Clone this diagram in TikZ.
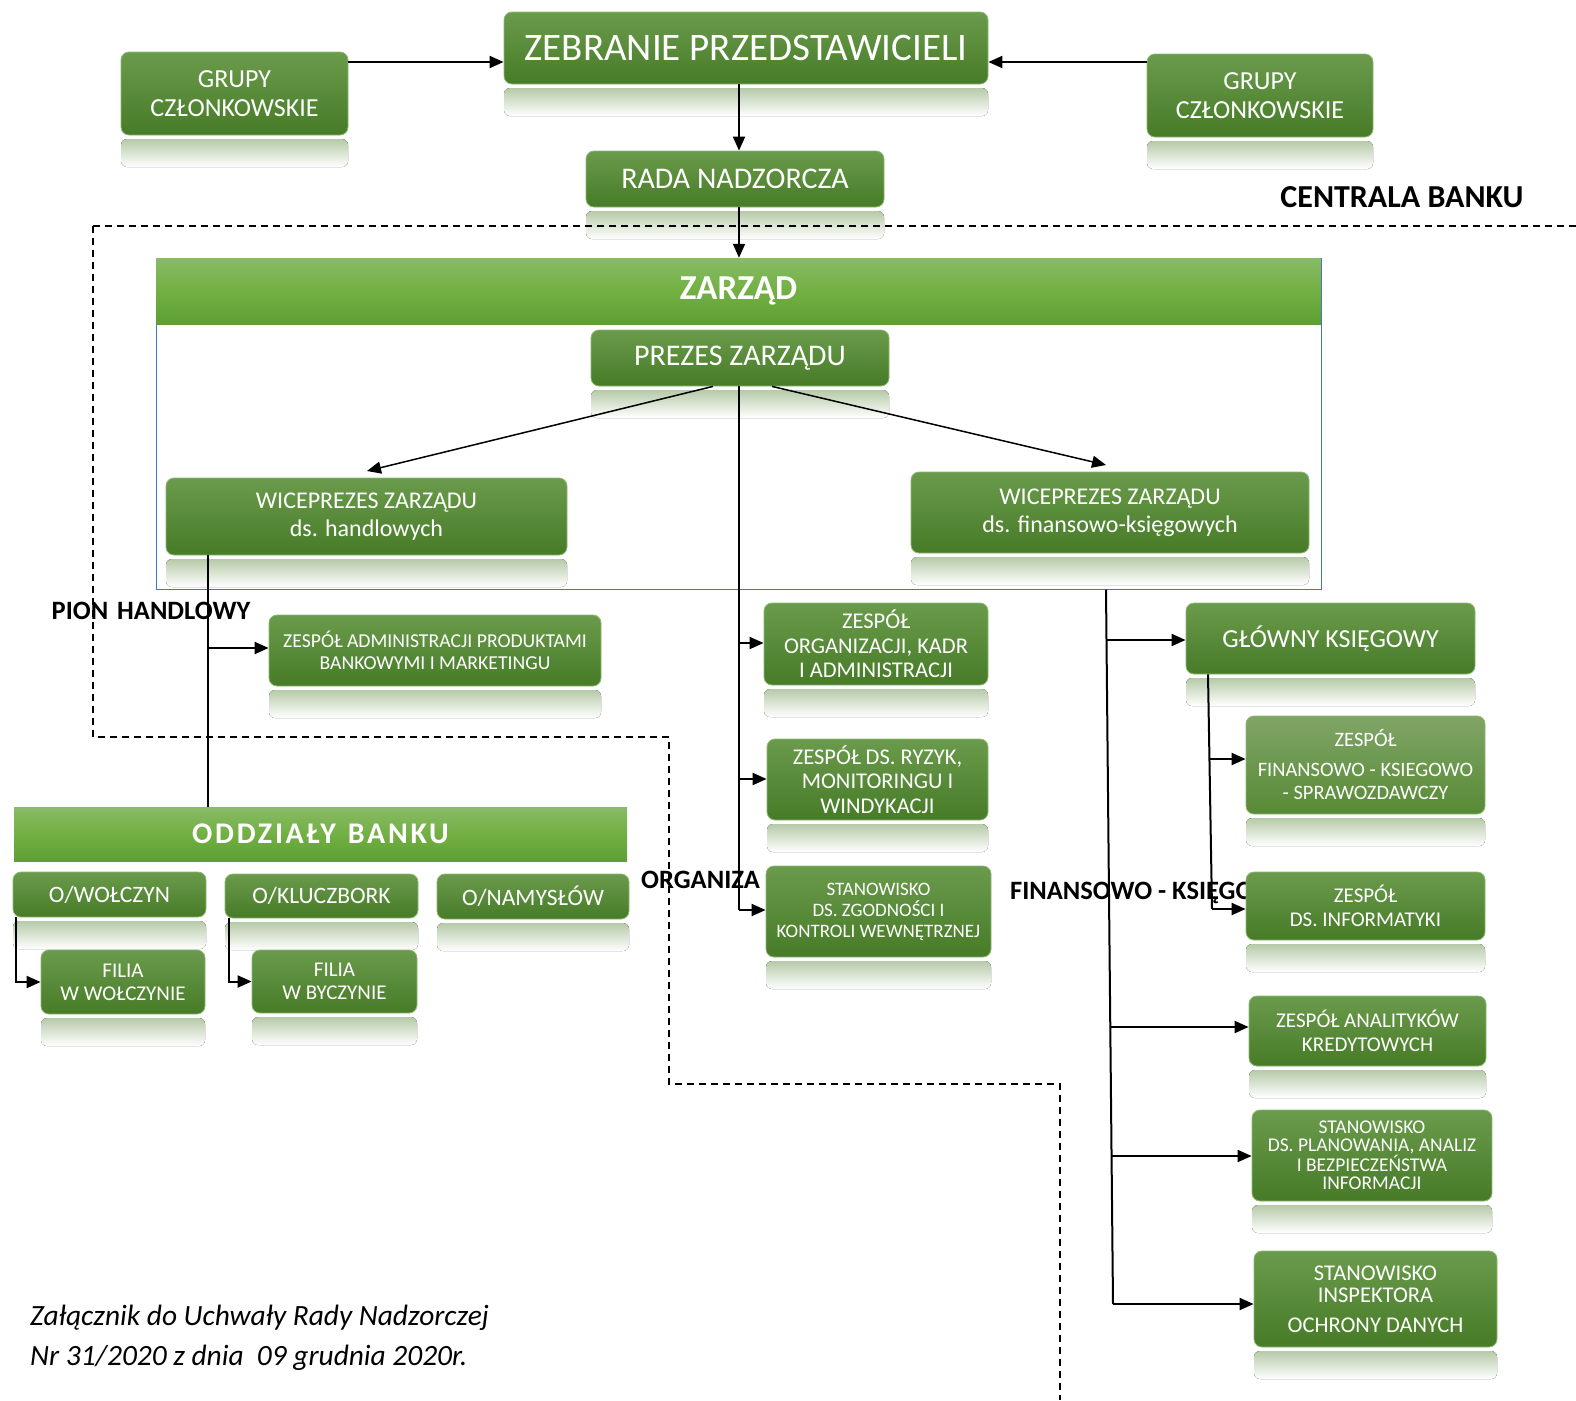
\documentclass[tikz,border=0pt]{standalone}
\usepackage{fontspec}
\setmainfont{Carlito}
\usetikzlibrary{arrows.meta,calc}
\definecolor{gtop}{HTML}{6A9B4C}
\definecolor{gbot}{HTML}{477B27}
\definecolor{gedge}{HTML}{8DB872}
\definecolor{ftop}{HTML}{80A567}
\definecolor{fbot}{HTML}{578A35}
\definecolor{refl}{HTML}{B6CAA8}
\definecolor{btop}{HTML}{88BB66}
\definecolor{bmid}{HTML}{72B043}
\definecolor{bbot}{HTML}{5E9E32}
\definecolor{zblue}{HTML}{4472C4}
\newcommand\fs[2]{\fontsize{#1}{#2}\selectfont}
\tikzset{
  gbox/.style={rounded corners=8pt, top color=gtop, bottom color=gbot, draw=gedge, line width=0.8pt, text=white, align=center, inner sep=0pt},
  gbar/.style={top color=btop, bottom color=bbot, middle color=bmid, draw=none, text=white, inner sep=0pt},
  arr/.style={line width=2pt, -{Triangle[length=14pt,width=12pt]}},
  tarr/.style={line width=1.5pt, -{Triangle[length=14pt,width=12pt]}},
  ln/.style={line width=2pt},
  dsh/.style={line width=1.5pt, dash pattern=on 7pt off 5pt},
  lbl/.style={font=\bfseries\fs{26.5}{30}, text=black, inner sep=0pt},
}
% [opt] name x1 y1 x2 y2 font text
\newcommand\gb[8][]{%
  \fill[top color=refl, bottom color=white, rounded corners=6pt] (#3,#6+4) rectangle (#5,#6+32);
  \node[gbox,#1, minimum width={(#5)-(#3)}, minimum height={(#6)-(#4)}, font=#7] (#2) at ({((#3)+(#5))/2},{((#4)+(#6))/2}) {#8};
}
\begin{document}
\begin{tikzpicture}[x=1pt,y=-1pt]
\useasboundingbox (0,0) rectangle (1576,1400);
\fill[white] (0,0) rectangle (1576,1400);

% labels
\node[lbl, font=\bfseries\fs{32}{36}] (lcentr) at (1402,197) {CENTRALA BANKU};
\node[lbl] (lpion) at (151,611) {PION\hspace{9pt}HANDLOWY};
\node[lbl, anchor=west] (lorg) at (641,880) {ORGANIZA};
\node[lbl, anchor=west] (lfin) at (1010,893) {FINANSOWO - KSIĘGO};

% top level
\gb{grL}{121}{52}{348}{135}{\fs{26}{29}}{GRUPY\\CZŁONKOWSKIE}
\gb{zebr}{504}{12}{988}{84}{\fs{39}{44}}{ZEBRANIE PRZEDSTAWICIELI}
\gb{grR}{1147}{54}{1373}{137}{\fs{26}{29}}{GRUPY\\CZŁONKOWSKIE}
\gb{rada}{586}{151}{884}{207}{\fs{30}{33}}{RADA NADZORCZA}

% Zarzad frame
\node[draw=zblue, line width=1pt, minimum width=1165, minimum height=331, inner sep=0pt] (zbox) at (738.5,423.5) {};
\node[gbar, minimum width=1165, minimum height=66, font=\bfseries\fs{35}{38}] (zarz) at (738.5,291) {ZARZĄD};
\gb{prezes}{591}{330}{889}{386}{\fs{30}{33}}{PREZES ZARZĄDU}
\gb{wiceL}{166}{478}{567}{555}{\fs{24}{28}}{WICEPREZES ZARZĄDU\\ds. handlowych}
\gb{wiceR}{911}{472}{1309}{553}{\fs{24}{28}}{WICEPREZES ZARZĄDU\\ds. finansowo-księgowych}

% pion handlowy
\gb{adm}{269}{615}{601}{686}{\fs{19.7}{22}}{ZESPÓŁ ADMINISTRACJI PRODUKTAMI\\BANKOWYMI I MARKETINGU}

% pion organizacyjny
\gb{org}{764}{603}{988}{685}{\fs{22.5}{24.5}}{ZESPÓŁ\\ORGANIZACJI, KADR\\I ADMINISTRACJI}
\gb{ryz}{767}{739}{988}{820}{\fs{22.5}{24.5}}{ZESPÓŁ DS. RYZYK,\\MONITORINGU I\\WINDYKACJI}
\gb{zgod}{766}{866}{991}{957}{\fs{19}{21}}{STANOWISKO\\DS. ZGODNOŚCI I\\KONTROLI WEWNĘTRZNEJ}

% pion finansowo-ksiegowy
\gb{glow}{1186}{603}{1475}{674}{\fs{26}{28}}{GŁÓWNY KSIĘGOWY}
\gb[top color=ftop, bottom color=fbot]{fin}{1246}{716}{1485}{814}{\fs{20.5}{23}}{ZESPÓŁ\\[7pt]FINANSOWO - KSIEGOWO\\{}- SPRAWOZDAWCZY}
\gb{inf}{1246}{872}{1485}{940}{\fs{21}{24}}{ZESPÓŁ\\DS. INFORMATYKI}
\gb{anal}{1249}{996}{1486}{1066}{\fs{21}{24}}{ZESPÓŁ ANALITYKÓW\\KREDYTOWYCH}
\gb{plan}{1252}{1110}{1492}{1201}{\fs{19.5}{18}}{STANOWISKO\\DS. PLANOWANIA, ANALIZ\\I BEZPIECZEŃSTWA\\INFORMACJI}
\gb{insp}{1254}{1251}{1497}{1347}{\fs{22.5}{22}}{STANOWISKO\\INSPEKTORA\\[8pt]OCHRONY DANYCH}

% oddzialy
\node[gbar, minimum width=613, minimum height=54, font=\bfseries\fs{30}{32}\addfontfeatures{LetterSpace=9}] (oddz) at (320.5,834) {ODDZIAŁY\hspace{12pt}BANKU};
\gb{owol}{13}{872}{206}{917}{\fs{23.5}{26}}{O/WOŁCZYN}
\gb{oklu}{225}{874}{418}{918}{\fs{23.5}{26}}{O/KLUCZBORK}
\gb{onam}{437}{874}{629}{919}{\fs{23.5}{26}}{O/NAMYSŁÓW}
\gb{filw}{41}{950}{205}{1014}{\fs{21}{23}}{FILIA\\W WOŁCZYNIE}
\gb{filb}{252}{950}{417}{1013}{\fs{21}{23}}{FILIA\\W BYCZYNIE}

% dashed region borders
\draw[dsh] (93,226) -- (1576,226);
\draw[dsh] (93,226) -- (93,737) -- (669,737) -- (669,1084) -- (1060,1084) -- (1060,1400);

% footer
\node[anchor=west, inner sep=0pt, font=\itshape\fs{29.4}{32}] (foot1) at (30,1318) {Załącznik do Uchwały Rady Nadzorczej};
\node[anchor=west, inner sep=0pt, font=\itshape\fs{29.4}{32}] (foot2) at (30,1358) {Nr 31/2020 z dnia\ \ 09 grudnia 2020r.};

% helper coordinates
\coordinate (ay) at (0,62);
\coordinate (cx) at (739,0);
\coordinate (lx) at (208,0);
\coordinate (ctr) at (739,910);
\coordinate (rtop) at (1106,591);
\coordinate (rbot) at (1113,1304);
\coordinate (gtopc) at (1208,674);
\coordinate (gbotc) at (1212,909);

% connectors top
\draw[arr] (grL.east |- ay) -- (zebr.west |- ay);
\draw[arr] (grR.west |- ay) -- (zebr.east |- ay);
\draw[arr] (zebr.south -| cx) -- (rada.north -| cx);
\draw[arr] (rada.south -| cx) -- (zarz.north -| cx);
\draw[tarr] (prezes.south -| 713,0) -- (367,471);
\draw[tarr] (prezes.south -| 772,0) -- (1106,465);

% central trunk
\draw[ln] (prezes.south -| cx) -- (ctr);
\draw[arr] (739,643) -- (org.west |- 0,643);
\draw[arr] (739,779) -- (ryz.west |- 0,779);
\draw[arr] (ctr) -- (zgod.west |- ctr);

% left trunk
\draw[ln] (wiceL.south -| lx) -- (oddz.north -| lx);
\draw[arr] (208,648) -- (adm.west |- 0,648);

% right trunk
\draw[ln] (zbox.south -| rtop) -- (rbot);
\draw[arr] (1106,640) -- (glow.west |- 0,640);
\draw[arr] (1111,1027) -- (anal.west |- 0,1027);
\draw[arr] (1112,1156) -- (plan.west |- 0,1156);
\draw[arr] (rbot) -- (insp.west |- rbot);

% glowny ksiegowy trunk
\draw[ln] (glow.south -| gtopc) -- (gbotc);
\draw[arr] (1210,759) -- (fin.west |- 0,759);
\draw[arr] (gbotc) -- (inf.west |- gbotc);

% oddzialy -> filie
\draw[arr] (owol.south -| 16,0) |- (filw.west);
\draw[arr] (oklu.south -| 229,0) |- (filb.west);
\end{tikzpicture}
\end{document}
